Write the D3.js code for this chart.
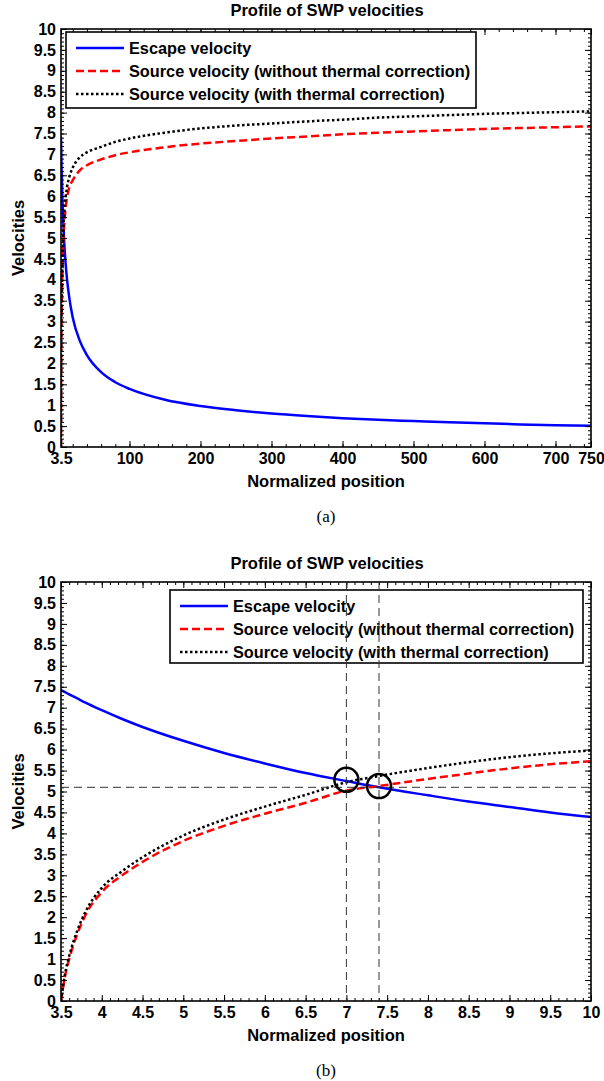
<!DOCTYPE html>
<html><head><meta charset="utf-8">
<script src="https://cdn.jsdelivr.net/npm/d3@7/dist/d3.min.js"></script>
<style>body{margin:0;background:#fff}svg{display:block}</style>
</head><body>
<script>
// ---------- DATA ----------
const legendLabels = ["Escape velocity","Source velocity (without thermal correction)","Source velocity (with thermal correction)"];
const yTicks = [0,0.5,1,1.5,2,2.5,3,3.5,4,4.5,5,5.5,6,6.5,7,7.5,8,8.5,9,9.5,10];
// Panel (a)
const xTicksA = [3.5,100,200,300,400,500,600,700,750];
const posA      = [3.5, 3.55, 3.6, 3.7, 3.8, 4, 4.5, 5, 6, 7, 8, 10, 12, 15, 20, 30, 40, 60, 80, 100, 150, 200, 250, 300, 350, 400, 450, 500, 550, 600, 650, 700, 750];
const escapeA   = [7.42, 7.37, 7.32, 7.22, 7.12, 6.94, 6.54, 6.21, 5.67, 5.25, 4.91, 4.39, 4.01, 3.59, 3.10, 2.54, 2.20, 1.79, 1.55, 1.39, 1.13, 0.98, 0.88, 0.80, 0.74, 0.69, 0.65, 0.62, 0.59, 0.57, 0.54, 0.52, 0.51];
const sourceA   = [0, 0.6, 1.0, 1.6, 2.05, 2.6, 3.32, 3.82, 4.47, 5.02, 5.3, 5.72, 5.97, 6.2, 6.38, 6.62, 6.74, 6.88, 6.98, 7.05, 7.17, 7.26, 7.32, 7.38, 7.43, 7.48, 7.52, 7.55, 7.58, 7.61, 7.63, 7.65, 7.67];
const thermalA  = [0, 0.65, 1.07, 1.68, 2.13, 2.7, 3.43, 3.95, 4.64, 5.22, 5.56, 5.98, 6.22, 6.45, 6.68, 6.93, 7.05, 7.18, 7.3, 7.38, 7.52, 7.62, 7.69, 7.74, 7.79, 7.83, 7.88, 7.91, 7.94, 7.97, 7.99, 8.01, 8.03];
// Panel (b)
const xTicksB = [3.5,4,4.5,5,5.5,6,6.5,7,7.5,8,8.5,9,9.5,10];
const posB      = [3.5, 3.55, 3.6, 3.7, 3.8, 4, 4.25, 4.5, 5, 5.5, 6, 6.5, 7, 7.4, 8, 8.5, 9, 9.5, 10];
const escapeB   = [7.42, 7.37, 7.32, 7.22, 7.12, 6.94, 6.73, 6.54, 6.21, 5.92, 5.67, 5.44, 5.25, 5.10, 4.91, 4.76, 4.63, 4.50, 4.39];
const sourceB   = [0, 0.6, 1.0, 1.6, 2.05, 2.6, 3.0, 3.32, 3.82, 4.18, 4.47, 4.73, 5.02, 5.13, 5.3, 5.43, 5.55, 5.65, 5.72];
const thermalB  = [0, 0.65, 1.07, 1.68, 2.13, 2.7, 3.1, 3.43, 3.95, 4.33, 4.64, 4.92, 5.22, 5.37, 5.56, 5.7, 5.82, 5.91, 5.98];
const markX = [7, 7.4];        // vertical reference lines
const markY = 5.1;             // horizontal reference line
const circleY = [5.28, 5.13];  // circled intersections

// ---------- DRAW ----------
const W = 604, H = 1081;
const svg = d3.select("body").append("svg").attr("width", W).attr("height", H);
const FONT = "'Liberation Sans', Arial, sans-serif";
const colors = ["#0000ff", "#ff0000", "#000000"];
const dashes = [null, "8,4", "2.5,2.5"];
const widths = [2.5, 2.5, 2.5];

function panel(cfg) {
  const g = svg.append("g");
  const x = d3.scaleLinear().domain(cfg.xdom).range([cfg.left, cfg.right]);
  const y = d3.scaleLinear().domain([0, 10]).range([cfg.bottom, cfg.top]);

  // title
  g.append("text").attr("x", (cfg.left + cfg.right) / 2 + 1).attr("y", cfg.top - 13)
    .attr("text-anchor", "middle").attr("font-family", FONT).attr("font-weight", "bold")
    .attr("font-size", 16.5).text("Profile of SWP velocities");

  const clipId = "clip" + cfg.id;
  g.append("clipPath").attr("id", clipId).append("rect")
    .attr("x", cfg.left).attr("y", cfg.top).attr("width", cfg.right - cfg.left).attr("height", cfg.bottom - cfg.top);

  // curves
  const series = [cfg.esc, cfg.src, cfg.th];
  const plot = g.append("g").attr("clip-path", `url(#${clipId})`);
  series.forEach((s, i) => {
    const line = d3.line().x((d, j) => x(cfg.pos[j])).y(d => y(d)).curve(d3.curveMonotoneX);
    plot.append("path").datum(s).attr("d", line).attr("fill", "none")
      .attr("stroke", colors[i]).attr("stroke-width", widths[i])
      .attr("stroke-dasharray", dashes[i]);
  });

  // axes with minor ticks (inward, on all sides)
  const minorX = d3.range(cfg.minorStart, cfg.xdom[1] + 1e-9, cfg.minorStep).filter(v => v >= cfg.xdom[0]);
  const minorY = d3.range(0, 10.0001, 0.1);
  const axisG = g.append("g").attr("font-family", FONT).attr("font-weight", "bold");
  axisG.append("g").attr("transform", `translate(0,${cfg.bottom})`)
    .call(d3.axisBottom(x).tickValues(minorX).tickSize(-3).tickFormat(""));
  axisG.append("g").attr("transform", `translate(0,${cfg.bottom})`)
    .call(d3.axisBottom(x).tickValues(cfg.xticks).tickSize(-6).tickPadding(6).tickFormat(d => String(d)))
    .call(a => a.selectAll("text").attr("font-size", 16).attr("fill", "#000"));
  axisG.append("g").attr("transform", `translate(0,${cfg.top})`)
    .call(d3.axisTop(x).tickValues(minorX).tickSize(-3).tickFormat(""));
  axisG.append("g").attr("transform", `translate(0,${cfg.top})`)
    .call(d3.axisTop(x).tickValues(cfg.xticks).tickSize(-6).tickFormat(""));
  axisG.append("g").attr("transform", `translate(${cfg.left},0)`)
    .call(d3.axisLeft(y).tickValues(minorY).tickSize(-3).tickFormat(""));
  axisG.append("g").attr("transform", `translate(${cfg.left},0)`)
    .call(d3.axisLeft(y).tickValues(yTicks).tickSize(-6).tickPadding(5).tickFormat(d => String(d)))
    .call(a => a.selectAll("text").attr("font-size", 16).attr("fill", "#000"));
  axisG.append("g").attr("transform", `translate(${cfg.right},0)`)
    .call(d3.axisRight(y).tickValues(minorY).tickSize(-3).tickFormat(""));
  axisG.append("g").attr("transform", `translate(${cfg.right},0)`)
    .call(d3.axisRight(y).tickValues(yTicks).tickSize(-6).tickFormat(""));
  axisG.selectAll(".domain").remove();
  axisG.selectAll(".tick line").attr("stroke", "#000").attr("stroke-width", 1);

  // frame
  g.append("rect").attr("x", cfg.left).attr("y", cfg.top)
    .attr("width", cfg.right - cfg.left).attr("height", cfg.bottom - cfg.top)
    .attr("fill", "none").attr("stroke", "#000").attr("stroke-width", 1.6);

  // axis labels
  g.append("text").attr("x", (cfg.left + cfg.right) / 2).attr("y", cfg.bottom + 40)
    .attr("text-anchor", "middle").attr("font-family", FONT).attr("font-weight", "bold")
    .attr("font-size", 16.5).text("Normalized position");
  g.append("text").attr("transform", `translate(24,${(cfg.top + cfg.bottom) / 2}) rotate(-90)`)
    .attr("text-anchor", "middle").attr("font-family", FONT).attr("font-weight", "bold")
    .attr("font-size", 16.5).text("Velocities");
  g.append("text").attr("x", (cfg.left + cfg.right) / 2).attr("y", cfg.bottom + 75)
    .attr("text-anchor", "middle").attr("font-family", "'Liberation Serif', 'Times New Roman', serif")
    .attr("font-size", 17).text(cfg.caption);

  // legend
  const L = cfg.legend;
  const lg = g.append("g");
  lg.append("rect").attr("x", L.x).attr("y", L.y).attr("width", L.w).attr("height", L.h)
    .attr("fill", "#fff").attr("stroke", "#000").attr("stroke-width", 1.6);
  legendLabels.forEach((t, i) => {
    const cy = L.y + 16 + i * 23;
    lg.append("line").attr("x1", L.x + 10).attr("x2", L.x + 58).attr("y1", cy).attr("y2", cy)
      .attr("stroke", colors[i]).attr("stroke-width", widths[i]).attr("stroke-dasharray", dashes[i]);
    lg.append("text").attr("x", L.x + 63).attr("y", cy + 6).attr("font-family", FONT)
      .attr("font-weight", "bold").attr("font-size", 16.3).text(t);
  });

  return {g, x, y};
}

const A = panel({
  id: "a", left: 61, right: 591, top: 29, bottom: 447,
  xdom: [3.5, 750], xticks: xTicksA, minorStart: 20, minorStep: 20,
  pos: posA, esc: escapeA, src: sourceA, th: thermalA, caption: "(a)",
  legend: {x: 66, y: 32, w: 410, h: 76}
});

const B = panel({
  id: "b", left: 61, right: 591, top: 582, bottom: 1001,
  xdom: [3.5, 10], xticks: xTicksB, minorStart: 3.6, minorStep: 0.1,
  pos: posB, esc: escapeB, src: sourceB, th: thermalB, caption: "(b)",
  legend: {x: 170, y: 590, w: 413, h: 73}
});

// reference lines & circles in panel (b)
markX.forEach(v => {
  B.g.append("line").attr("x1", B.x(v)).attr("x2", B.x(v)).attr("y1", B.y(10)).attr("y2", B.y(0))
    .attr("stroke", "#333").attr("stroke-width", 1).attr("stroke-dasharray", "8,5");
});
B.g.append("line").attr("x1", B.x(3.5)).attr("x2", B.x(10)).attr("y1", B.y(markY)).attr("y2", B.y(markY))
  .attr("stroke", "#333").attr("stroke-width", 1).attr("stroke-dasharray", "8,5");
markX.forEach((v, i) => {
  B.g.append("circle").attr("cx", B.x(v)).attr("cy", B.y(circleY[i])).attr("r", 12)
    .attr("fill", "none").attr("stroke", "#000").attr("stroke-width", 2.5);
});
</script>
</body></html>
